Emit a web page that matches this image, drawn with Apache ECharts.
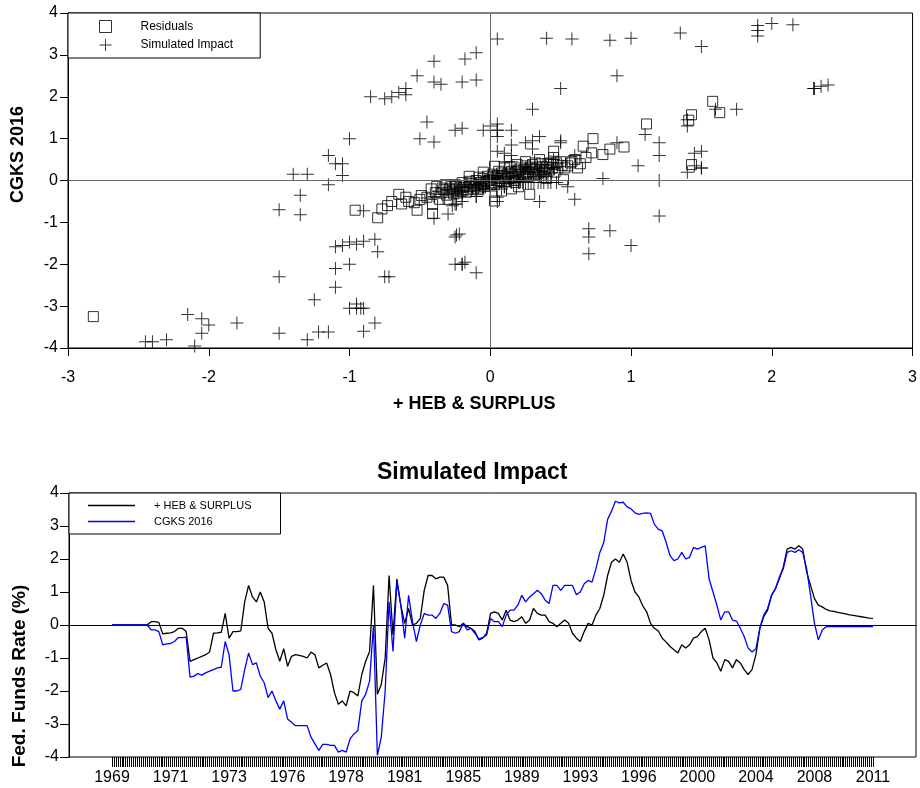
<!DOCTYPE html>
<html>
<head>
<meta charset="utf-8">
<script src="https://cdn.jsdelivr.net/npm/echarts@6/dist/echarts.min.js"></script>
<style>
html, body { margin: 0; padding: 0; background: #fff; }
#charts { width: 920px; height: 788px; }
</style>
</head>
<body>
<div id="charts"></div>
<script>
// time axis: one label every 30 observations
var yearLabels = ['1969', '1971', '1973', '1976', '1978', '1981', '1985', '1989', '1993', '1996', '2000', '2004', '2008', '2011'];
var obsPerLabel = 30;
var sampleStep = 2; // values below are read every 2nd observation

// simulated impact on the fed funds rate (%)
var hebSurplus = [
    0, 0, 0, 0, 0, 0, 0, 0, 0, 0,
    0.1, 0.1, 0.08, -0.27, -0.25, -0.24, -0.2, -0.1, -0.1, -0.2,
    -1.1, -1.05, -1.0, -0.95, -0.9, -0.82, -0.25, -0.24, -0.22, 0.35,
    -0.4, -0.2, -0.2, -0.18, 0.7, 1.2, 0.85, 0.7, 1.0, 0.7,
    -0.1, -0.25, -0.75, -1.1, -0.72, -1.25, -0.95, -0.9, -0.92, -0.95,
    -1.0, -0.82, -0.9, -1.3, -1.22, -1.15, -1.5, -2.05, -2.4, -2.3,
    -2.45, -2.0, -2.05, -2.15, -1.5, -1.1, -0.8, 1.2, -2.1, -1.8,
    -1.0, 1.5, -0.3, 1.4, 0.6, 0.05, 0.5, 0.0, 0.05, 0.2,
    1.05, 1.5, 1.5, 1.4, 1.45, 1.45, 1.2, 0.0, 0.0, -0.05,
    0.05, -0.05, -0.1, -0.2, -0.45, -0.4, -0.25, 0.35, 0.4, 0.35,
    0.15, 0.45, 0.15, 0.1, 0.15, 0.25, 0.05, 0.15, 0.5, 0.35,
    0.3, 0.3, 0.1, 0.05, -0.05, 0.05, 0.15, 0.05, -0.25, -0.4,
    -0.5, -0.2, 0.05, 0.0, 0.3, 0.5, 0.9, 1.5, 1.9, 2.0,
    1.9, 2.15, 1.9, 1.35, 1.0, 0.85, 0.58, 0.4, 0.05, -0.1,
    -0.18, -0.4, -0.52, -0.65, -0.75, -0.85, -0.6, -0.7, -0.6, -0.4,
    -0.35, -0.2, -0.1, -0.45, -1.0, -1.15, -1.4, -1.05, -1.1, -1.3,
    -1.05, -1.15, -1.35, -1.5, -1.35, -0.9, -0.1, 0.25, 0.45, 0.9,
    1.1, 1.4, 1.75, 2.3, 2.35, 2.3, 2.4, 2.3, 1.6, 1.2,
    0.8, 0.6, 0.55, 0.47, 0.43, 0.41, 0.38, 0.36, 0.34, 0.31,
    0.29, 0.27, 0.25, 0.23, 0.21, 0.2
];
var cgks2016 = [
    0, 0, 0, 0, 0, 0, 0, 0, 0, 0,
    -0.15, -0.15, -0.2, -0.6, -0.57, -0.56, -0.5, -0.38, -0.38, -0.37,
    -1.58, -1.55, -1.47, -1.52, -1.45, -1.4, -1.35, -1.3, -1.28, -0.5,
    -0.9, -2.0, -2.0, -1.95, -1.35, -0.85, -1.2, -1.15, -1.55, -1.75,
    -2.2, -2.0, -2.3, -2.55, -2.3, -2.85, -2.95, -3.05, -3.05, -3.05,
    -3.05, -3.4, -3.6, -3.8, -3.62, -3.62, -3.65, -3.65, -3.85, -3.8,
    -3.85, -3.45, -3.3, -3.2, -2.3, -2.1, -1.7, 0.0, -3.95, -3.4,
    -2.0, 0.7, -0.8, 1.3, 0.6, -0.4, 0.9, 0.1, -0.5, 0.0,
    0.35, 0.3, 0.3, 0.2, 0.35, 0.65, 0.6, -0.2, -0.25, -0.2,
    0.05, -0.15, -0.1, -0.25, -0.42, -0.38, -0.3, 0.2, 0.1, 0.1,
    -0.05, 0.3, 0.45, 0.45, 0.6, 0.9, 0.7, 0.85, 0.95, 1.05,
    0.95, 0.75, 0.65, 1.2, 1.2, 1.05, 1.2, 1.2, 1.2, 0.92,
    1.0, 1.25, 1.35, 1.3, 1.7, 2.2, 2.5, 3.2, 3.45, 3.75,
    3.7, 3.72, 3.58, 3.52, 3.4, 3.35, 3.38, 3.4, 3.38, 3.05,
    2.9, 2.85, 2.5, 2.1, 1.95, 2.0, 2.2, 2.0, 2.05, 2.35,
    2.3, 2.35, 2.4, 1.4, 1.0, 0.6, 0.15, 0.4, 0.4, 0.15,
    0.12, -0.1, -0.35, -0.7, -0.82, -0.72, -0.1, 0.3, 0.5, 0.9,
    1.1, 1.45, 1.7, 2.2, 2.25, 2.2, 2.28, 2.2, 1.7, 0.9,
    0.05, -0.45, -0.15, -0.05, -0.05, -0.05, -0.05, -0.05, -0.05, -0.05,
    -0.05, -0.05, -0.05, -0.05, -0.05, -0.05
];

// residuals: [+ HEB & SURPLUS, CGKS 2016]
var residuals = [
    [-2.82, -3.25], [-0.96, -0.71], [-0.80, -0.89], [-0.77, -0.68], [-0.73, -0.60],
    [-0.65, -0.33], [-0.63, -0.56], [-0.54, -0.53], [-0.52, -0.71], [-0.49, -0.36],
    [-0.41, -0.57], [-0.41, -0.79], [-0.39, -0.29], [-0.38, -0.14], [-0.32, -0.10],
    [-0.30, -0.45], [-0.25, -0.21], [0.03, -0.49], [1.58, 1.89], [1.63, 1.62],
    [1.43, 1.57], [1.41, 1.44], [1.11, 1.35], [0.73, 1.0], [0.66, 0.82],
    [0.72, 0.66], [0.57, 0.42], [0.45, 0.70], [0.43, 0.42], [0.52, 0.02],
    [0.28, -0.33], [1.43, 0.38], [0.03, 0.34],
    [-0.35, -0.3], [-0.33, -0.22], [-0.3, -0.28], [-0.28, -0.15], [-0.27, -0.25],
    [-0.25, -0.1], [-0.23, -0.3], [-0.22, -0.18], [-0.2, -0.05], [-0.2, -0.22],
    [-0.18, -0.12], [-0.17, -0.28], [-0.15, -0.02], [-0.15, -0.15], [-0.13, -0.08],
    [-0.12, -0.2], [-0.1, 0.0], [-0.1, -0.12], [-0.08, -0.05], [-0.07, -0.18],
    [-0.05, 0.05], [-0.05, -0.08], [-0.03, -0.02], [-0.02, 0.1], [0.0, -0.05],
    [0.0, 0.02], [0.02, 0.08], [0.03, -0.1], [0.05, 0.0], [0.05, 0.12],
    [0.07, 0.05], [0.08, 0.18], [0.1, 0.1], [0.1, -0.02], [0.12, 0.15],
    [0.13, 0.05], [0.15, 0.22], [0.15, 0.1], [0.17, 0.0], [0.18, 0.18],
    [0.2, 0.25], [0.2, 0.1], [0.22, 0.3], [0.23, 0.15], [0.25, 0.2],
    [0.25, 0.35], [0.27, 0.1], [0.28, 0.28], [0.3, 0.22], [0.3, 0.38],
    [0.32, 0.15], [0.33, 0.3], [0.35, 0.25], [0.36, 0.4], [0.38, 0.2],
    [0.4, 0.32], [0.42, 0.25], [0.45, 0.38], [0.48, 0.3], [0.5, 0.45],
    [0.55, 0.35], [0.6, 0.5], [0.62, 0.3], [0.68, 0.55], [0.8, 0.62],
    [0.85, 0.75], [0.95, 0.8], [-0.45, -0.4], [-0.5, -0.45], [-0.58, -0.5],
    [-0.6, -0.4], [-0.7, -0.5], [-0.42, -0.2], [-0.36, -0.45], [0.08, -0.25],
    [0.15, -0.2], [0.2, -0.15], [0.4, 0.05], [0.35, 0.5], [0.1, 0.3],
    [-0.05, 0.2], [0.25, 0.45], [0.45, 0.55], [-0.15, 0.1],
    [-0.34, -0.18], [-0.31, -0.35], [-0.29, -0.2], [-0.26, -0.32], [-0.24, -0.14],
    [-0.21, -0.26], [-0.19, -0.16], [-0.16, -0.22], [-0.14, -0.06], [-0.11, -0.15],
    [-0.09, -0.22], [-0.06, -0.1], [-0.04, -0.14], [-0.01, 0.0], [0.01, -0.08],
    [0.04, 0.06], [0.06, -0.04], [0.09, 0.12], [0.11, 0.04], [0.14, 0.18],
    [0.16, 0.06], [0.19, 0.22], [0.21, 0.14], [0.24, 0.26], [0.26, 0.16],
    [0.29, 0.32], [0.31, 0.26], [0.34, 0.18], [0.37, 0.33], [0.39, 0.26],
    [0.41, 0.4], [0.44, 0.3], [0.47, 0.42], [0.51, 0.36], [0.53, 0.3],
    [0.58, 0.45], [0.64, 0.4], [0.14, 0.32], [0.19, 0.38], [0.24, 0.08],
    [0.32, 0.42], [0.06, 0.22], [-0.08, 0.08], [0.02, 0.15], [0.18, -0.05],
    [0.27, 0.2], [0.36, 0.12], [0.46, 0.2]
];

var myChart = echarts.init(document.getElementById('charts'));
var font = '"Liberation Sans", Arial, sans-serif';
var plusIcon = 'path://M0,6H13V7H0Z M6,0H7V13H6Z';

var categories = [];
for (var i = 0; i <= (yearLabels.length - 1) * obsPerLabel; i++) {
    categories.push(i % obsPerLabel === 0 ? yearLabels[i / obsPerLabel] : '');
}
var hebLine = hebSurplus.map(function (v, k) { return [k * sampleStep, v]; });
var cgksLine = cgks2016.map(function (v, k) { return [k * sampleStep, v]; });
// the scatter's crosses are the two simulated paths plotted against each other
var impactPoints = hebSurplus.map(function (v, k) { return [v, cgks2016[k]]; });

var axisText = { fontSize: 16, color: '#000', fontFamily: font };
var nameText = { fontSize: 18, fontWeight: 'bold', color: '#000', fontFamily: font };

option = {
    animation: false,
    backgroundColor: '#fff',
    textStyle: { fontFamily: font },
    title: {
        text: 'Simulated Impact',
        left: 377,
        top: 461,
        padding: 0,
        textStyle: { fontSize: 23, fontWeight: 'bold', color: '#000', fontFamily: font }
    },
    legend: [
        {
            data: [{ name: 'Residuals', itemStyle: { borderWidth: 1 } }, 'Simulated Impact'],
            orient: 'vertical',
            left: 68,
            top: 13,
            padding: [7, 27, 7, 31],
            itemGap: 6,
            itemWidth: 12,
            itemHeight: 12,
            borderColor: '#000',
            borderWidth: 1,
            borderRadius: 0,
            backgroundColor: '#fff',
            selectedMode: false,
            textStyle: { fontSize: 12, color: '#000', padding: [0, 0, 0, 24] }
        },
        {
            data: ['+ HEB & SURPLUS', 'CGKS 2016'],
            orient: 'vertical',
            icon: 'rect',
            left: 69,
            top: 493,
            padding: [7, 29, 7, 19],
            itemGap: 5,
            itemWidth: 47,
            itemHeight: 1.5,
            borderColor: '#000',
            borderWidth: 1,
            borderRadius: 0,
            backgroundColor: '#fff',
            selectedMode: false,
            textStyle: { fontSize: 11, color: '#000', padding: [0, 0, 0, 14] }
        }
    ],
    grid: [
        { left: 68, right: 4, top: 13, bottom: 440, show: true, borderColor: '#000', borderWidth: 1 },
        { left: 69, right: 4, top: 493, bottom: 31, show: true, borderColor: '#000', borderWidth: 1 },
        { left: 112, right: 47, top: 493, bottom: 31 }
    ],
    xAxis: [
        {
            gridIndex: 0, type: 'value', min: -3, max: 3, interval: 1,
            name: '+ HEB & SURPLUS', nameLocation: 'middle', nameGap: 47,
            nameTextStyle: Object.assign({ padding: [0, 32, 0, 0] }, nameText),
            axisLine: { onZero: false, lineStyle: { color: '#000' } },
            axisTick: { length: 8, lineStyle: { color: '#000' } },
            axisLabel: Object.assign({ margin: 22 }, axisText),
            splitLine: { show: false }
        },
        {
            // only draws the zero line across the lower frame
            gridIndex: 1, type: 'value', min: 0, max: 1,
            axisLine: { onZero: true, lineStyle: { color: '#000' } },
            axisTick: { show: false },
            axisLabel: { show: false },
            splitLine: { show: false }
        },
        {
            gridIndex: 2, type: 'category', data: categories, boundaryGap: false,
            axisLine: { show: false, onZero: false },
            axisTick: { show: true, interval: 0, length: 10, lineStyle: { color: '#000', width: 1 } },
            axisLabel: Object.assign({ interval: obsPerLabel - 1, margin: 13 }, axisText),
            splitLine: { show: false }
        }
    ],
    yAxis: [
        {
            gridIndex: 0, type: 'value', min: -4, max: 4, interval: 1,
            name: 'CGKS 2016', nameLocation: 'middle', nameGap: 41,
            nameTextStyle: Object.assign({ padding: [0, 0, 0, 52] }, nameText),
            axisLine: { onZero: false, lineStyle: { color: '#000' } },
            axisTick: { length: 8, lineStyle: { color: '#000' } },
            axisLabel: Object.assign({ margin: 10 }, axisText),
            splitLine: { show: false }
        },
        {
            gridIndex: 1, type: 'value', min: -4, max: 4, interval: 1,
            name: 'Fed. Funds Rate (%)', nameLocation: 'middle', nameGap: 40,
            nameTextStyle: Object.assign({ padding: [0, 102, 0, 0] }, nameText, { fontSize: 19 }),
            axisLine: { onZero: false, lineStyle: { color: '#000' } },
            axisTick: { length: 9, lineStyle: { color: '#000' } },
            axisLabel: Object.assign({ margin: 10 }, axisText),
            splitLine: { show: false }
        },
        { gridIndex: 2, type: 'value', min: -4, max: 4, show: false }
    ],
    series: [
        {
            name: 'Residuals',
            type: 'scatter',
            xAxisIndex: 0, yAxisIndex: 0,
            symbol: 'rect',
            symbolSize: 10,
            itemStyle: { color: 'rgba(0,0,0,0)', borderColor: '#000', borderWidth: 1 },
            data: residuals,
            z: 3
        },
        {
            name: 'Simulated Impact',
            type: 'scatter',
            xAxisIndex: 0, yAxisIndex: 0,
            symbol: plusIcon,
            symbolSize: 13,
            itemStyle: { color: '#000' },
            data: impactPoints,
            markLine: {
                silent: true,
                symbol: 'none',
                label: { show: false },
                lineStyle: { color: '#666', type: 'solid', width: 1 },
                data: [{ xAxis: 0 }, { yAxis: 0 }]
            },
            z: 2
        },
        {
            name: '+ HEB & SURPLUS',
            type: 'line',
            xAxisIndex: 2, yAxisIndex: 2,
            data: hebLine,
            symbol: 'none',
            lineStyle: { color: '#000', width: 1.3 },
            itemStyle: { color: '#000' }
        },
        {
            name: 'CGKS 2016',
            type: 'line',
            xAxisIndex: 2, yAxisIndex: 2,
            data: cgksLine,
            symbol: 'none',
            lineStyle: { color: '#0000ff', width: 1.3 },
            itemStyle: { color: '#0000ff' }
        }
    ]
};
myChart.setOption(option);
</script>
</body>
</html>
